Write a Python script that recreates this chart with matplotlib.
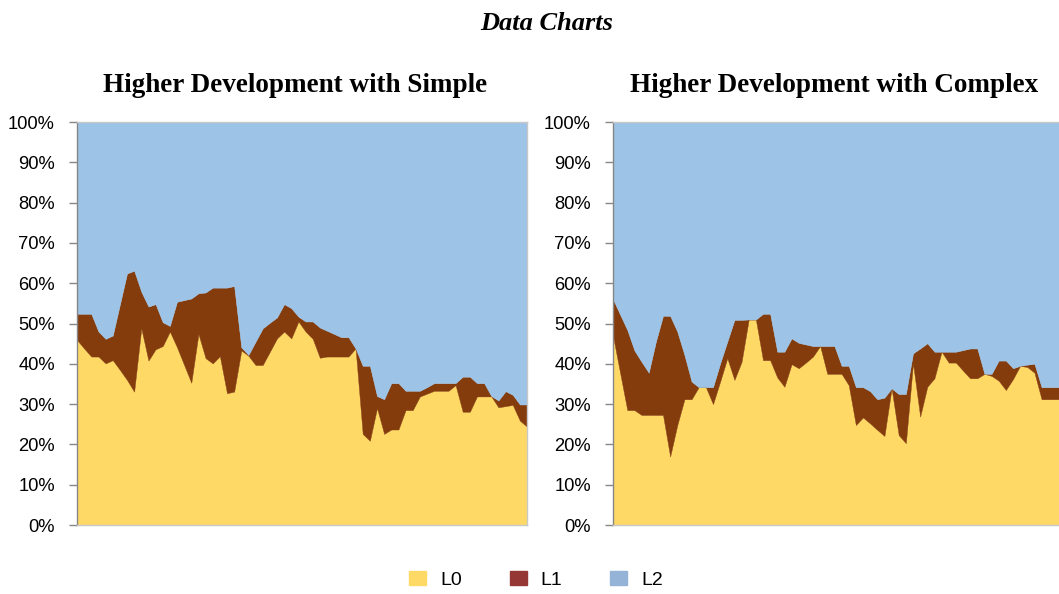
import matplotlib
matplotlib.use("Agg")
import matplotlib.pyplot as plt
from matplotlib.patches import Patch
import numpy as np

# ---------------- data (percent) ----------------
series_names = ["L0", "L1", "L2"]
chart_titles = ["Higher Development with Simple", "Higher Development with Complex"]
y_ticks = [0, 10, 20, 30, 40, 50, 60, 70, 80, 90, 100]
y_tick_labels = ["0%", "10%", "20%", "30%", "40%", "50%", "60%", "70%", "80%", "90%", "100%"]

simple_l0 = [45.9, 43.8, 41.8, 41.8, 40.1, 40.9, 38.5, 36.0, 33.1, 48.8,
             40.8, 43.6, 44.4, 48.0, 44.1, 39.7, 35.3, 47.4, 41.4, 40.1,
             41.9, 32.7, 33.1, 43.3, 42.0, 39.7, 39.7, 43.0, 46.3, 48.0,
             46.3, 50.5, 48.0, 46.2, 41.5, 41.8, 41.8, 41.8, 41.8, 43.8,
             22.6, 20.9, 29.0, 22.6, 23.7, 23.7, 28.5, 28.5, 31.9, 32.6,
             33.3, 33.3, 33.3, 34.7, 28.1, 28.1, 31.9, 31.9, 31.9, 29.2,
             29.5, 29.8, 25.9, 24.4]
simple_l1 = [6.5, 8.6, 10.6, 6.2, 6.1, 6.1, 16.2, 26.4, 30.0, 9.1,
             13.4, 11.2, 5.9, 1.4, 11.3, 16.1, 20.9, 10.1, 16.3, 18.8,
             17.0, 26.2, 26.2, 0.8, 0.2, 5.8, 9.1, 7.2, 5.2, 6.8,
             7.5, 1.2, 2.5, 4.3, 7.5, 6.4, 5.6, 4.8, 4.8, 0.0,
             16.9, 18.6, 3.0, 8.6, 11.5, 11.5, 4.8, 4.8, 1.4, 1.6,
             1.9, 1.9, 1.9, 0.5, 8.7, 8.7, 3.3, 3.3, 0.1, 1.7,
             3.7, 2.5, 4.0, 5.5]

complex_l0 = [46.9, 37.7, 28.5, 28.5, 27.3, 27.3, 27.3, 27.3, 17.0, 24.8,
              31.2, 31.2, 34.2, 34.2, 30.0, 35.6, 41.4, 36.0, 40.5, 51.0,
              51.0, 40.9, 40.9, 36.6, 34.3, 39.9, 38.9, 40.3, 41.8, 44.4,
              37.5, 37.5, 37.5, 34.7, 24.8, 26.7, 25.2, 23.6, 22.1, 33.9,
              22.3, 20.3, 40.1, 26.9, 34.3, 36.4, 43.0, 40.3, 40.3, 38.3,
              36.4, 36.4, 37.5, 37.0, 35.8, 33.5, 36.2, 39.5, 39.2, 37.8,
              31.2, 31.2, 31.2, 31.2]
complex_l1 = [9.1, 14.5, 19.9, 14.8, 13.2, 10.5, 18.2, 24.6, 34.9, 23.2,
              11.0, 4.4, 0.0, 0.0, 4.2, 4.5, 4.1, 14.9, 10.4, 0.0,
              0.0, 11.5, 11.5, 6.4, 8.7, 6.4, 6.3, 4.5, 2.6, 0.0,
              6.9, 6.9, 2.0, 4.8, 9.4, 7.5, 8.0, 7.6, 9.5, 0.0,
              10.2, 12.2, 2.5, 16.9, 10.8, 6.6, 0.0, 2.7, 2.7, 5.1,
              7.4, 7.4, 0.0, 0.5, 5.0, 7.3, 2.7, 0.0, 0.6, 2.2,
              3.0, 3.0, 3.0, 3.0]

fill_colors = ["#FFD966", "#843C0C", "#9DC3E6"]
legend_colors = ["#FFD966", "#953735", "#95B3D7"]

# ---------------- figure ----------------
W, H = 1059, 594
fig = plt.figure(figsize=(W / 100, H / 100), dpi=100)

def fx(px):
    return px / W

def fy(py):
    return 1 - py / H

tick_font = "Liberation Sans"
title_font = "Liberation Serif"

axes_specs = [(77, simple_l0, simple_l1), (613, complex_l0, complex_l1)]
axs = []
for (left_px, l0, l1) in axes_specs:
    ax = fig.add_axes([fx(left_px), fy(525), 450 / W, 403 / H])
    l0 = np.array(l0)
    l1 = np.array(l1)
    top1 = l0 + l1
    l2 = 100 - top1
    x = np.arange(len(l0))
    ax.fill_between(x, 0, l0, facecolor=fill_colors[0], edgecolor=fill_colors[0], lw=0.3)
    ax.fill_between(x, l0, top1, facecolor=fill_colors[1], edgecolor=fill_colors[1], lw=0.3)
    ax.fill_between(x, top1, top1 + l2, facecolor=fill_colors[2], edgecolor=fill_colors[2], lw=0.3)
    ax.set_xlim(0, len(l0) - 1)
    ax.set_ylim(0, 100)
    ax.set_xticks([])
    ax.set_yticks(y_ticks)
    ax.set_yticklabels(y_tick_labels, fontfamily=tick_font, fontsize=13.2)
    ax.tick_params(axis="y", direction="out", length=6, width=1, color="#868686", pad=10)
    for s in ["top", "right", "bottom"]:
        ax.spines[s].set_color("#C8C8C8")
        ax.spines[s].set_linewidth(1)
    ax.spines["left"].set_color("#868686")
    ax.spines["left"].set_linewidth(1)
    axs.append(ax)

fig.text(fx(547), fy(23), "Data Charts", ha="center", va="center",
         fontfamily=title_font, fontweight="bold", fontstyle="italic", fontsize=19)
fig.text(fx(295.5), fy(86), chart_titles[0], ha="center", va="center",
         fontfamily=title_font, fontweight="bold", fontsize=19.5)
fig.text(fx(834), fy(86), chart_titles[1], ha="center", va="center",
         fontfamily=title_font, fontweight="bold", fontsize=19.5)

handles = [Patch(facecolor=c, edgecolor=c) for c in legend_colors]
fig.legend(handles, series_names, loc="center", bbox_to_anchor=(fx(536), fy(580)),
           ncol=3, frameon=False, prop={"family": tick_font, "size": 14},
           handlelength=0.88, handleheight=0.72, handletextpad=0.72, columnspacing=2.45)

fig.savefig("out.png", dpi=100)
